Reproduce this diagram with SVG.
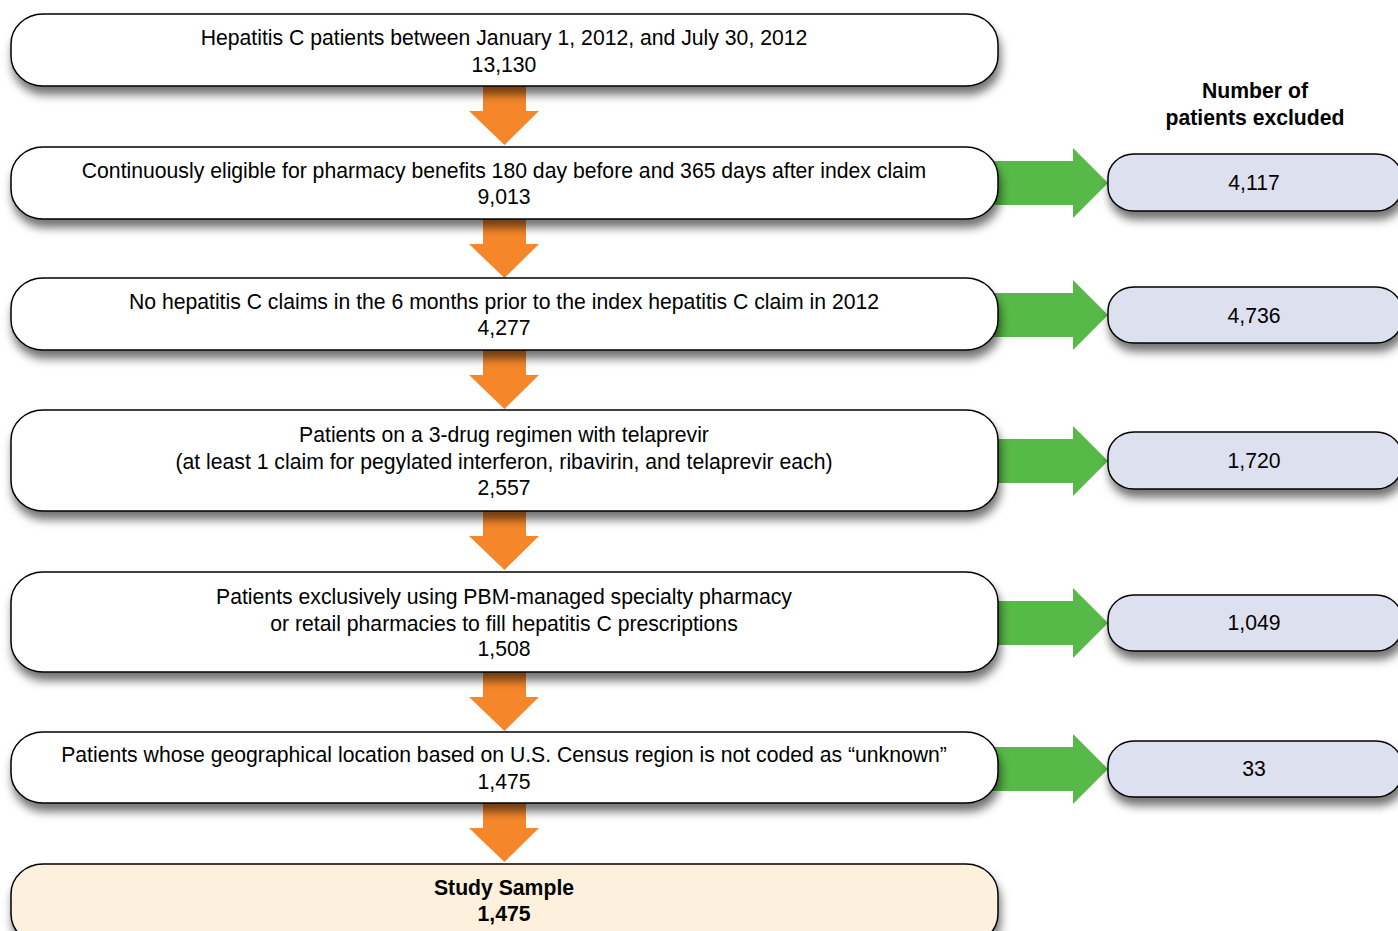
<svg xmlns="http://www.w3.org/2000/svg" width="1398" height="931" viewBox="0 0 1398 931">
<defs>
<filter id="sh" x="-5%" y="-30%" width="110%" height="170%">
<feDropShadow dx="2" dy="8" stdDeviation="5" flood-color="#000" flood-opacity="0.55"/>
</filter>
<style>
.box{fill:#fff;stroke:#000;stroke-width:1.5;filter:url(#sh)}
.ex{fill:#dde0ee;stroke:#000;stroke-width:1.5;filter:url(#sh)}
.st{fill:#fdf0dc;stroke:#000;stroke-width:1.5;filter:url(#sh)}
.t{font-family:"Liberation Sans",Arial,sans-serif;font-size:21.2px;fill:#000;text-anchor:middle}
.b{font-weight:bold}
.or{fill:#f5872a}
.gr{fill:#57b947}
</style>
<path id="oa" d="M-21,0 H22 V25 H35 L0.5,59 L-35,25 H-21 Z"/>
<path id="ga" d="M-10,-22 H75 V-35 L110,0 L75,35 V22 H-10 Z"/>
</defs>
<g id="connectors">
<use href="#oa" class="or" x="504" y="86"/>
<use href="#oa" class="or" x="504" y="219"/>
<use href="#oa" class="or" x="504" y="350"/>
<use href="#oa" class="or" x="504" y="511"/>
<use href="#oa" class="or" x="504" y="672"/>
<use href="#oa" class="or" x="504" y="803"/>
<use href="#ga" class="gr" x="998" y="183"/>
<use href="#ga" class="gr" x="998" y="315"/>
<use href="#ga" class="gr" x="998" y="461"/>
<use href="#ga" class="gr" x="998" y="623"/>
<use href="#ga" class="gr" x="998" y="769"/>
</g>
<g id="n1"><rect class="box" x="11" y="14" width="987" height="72" rx="32" ry="30"/>
<text class="t" x="504" y="45">Hepatitis C patients between January 1, 2012, and July 30, 2012</text>
<text class="t" x="504" y="72">13,130</text></g>
<g id="n2"><rect class="box" x="11" y="147" width="987" height="72" rx="32" ry="30"/>
<text class="t" x="504" y="178">Continuously eligible for pharmacy benefits 180 day before and 365 days after index claim</text>
<text class="t" x="504" y="204">9,013</text></g>
<g id="n3"><rect class="box" x="11" y="278" width="987" height="72" rx="32" ry="30"/>
<text class="t" x="504" y="309">No hepatitis C claims in the 6 months prior to the index hepatitis C claim in 2012</text>
<text class="t" x="504" y="335">4,277</text></g>
<g id="n4"><rect class="box" x="11" y="410" width="987" height="101" rx="32" ry="30"/>
<text class="t" x="504" y="442">Patients on a 3-drug regimen with telaprevir</text>
<text class="t" x="504" y="469">(at least 1 claim for pegylated interferon, ribavirin, and telaprevir each)</text>
<text class="t" x="504" y="495">2,557</text></g>
<g id="n5"><rect class="box" x="11" y="572" width="987" height="100" rx="32" ry="30"/>
<text class="t" x="504" y="604">Patients exclusively using PBM-managed specialty pharmacy</text>
<text class="t" x="504" y="631">or retail pharmacies to fill hepatitis C prescriptions</text>
<text class="t" x="504" y="656">1,508</text></g>
<g id="n6"><rect class="box" x="11" y="732" width="987" height="71" rx="32" ry="30"/>
<text class="t" x="504" y="762">Patients whose geographical location based on U.S. Census region is not coded as “unknown”</text>
<text class="t" x="504" y="789">1,475</text></g>
<g id="n7"><rect class="st" x="11" y="864" width="987" height="80" rx="32" ry="30"/>
<text class="t b" x="504" y="895">Study Sample</text>
<text class="t b" x="504" y="921">1,475</text></g>
<g id="hdr"><text class="t b" x="1255" y="98">Number of</text>
<text class="t b" x="1255" y="125">patients excluded</text></g>
<g id="e1"><rect class="ex" x="1108" y="154" width="294" height="57" rx="26" ry="24"/>
<text class="t" x="1254" y="190">4,117</text></g>
<g id="e2"><rect class="ex" x="1108" y="287" width="294" height="56" rx="26" ry="24"/>
<text class="t" x="1254" y="323">4,736</text></g>
<g id="e3"><rect class="ex" x="1108" y="432" width="294" height="57" rx="26" ry="24"/>
<text class="t" x="1254" y="468">1,720</text></g>
<g id="e4"><rect class="ex" x="1108" y="595" width="294" height="56" rx="26" ry="24"/>
<text class="t" x="1254" y="630">1,049</text></g>
<g id="e5"><rect class="ex" x="1108" y="741" width="294" height="56" rx="26" ry="24"/>
<text class="t" x="1254" y="776">33</text></g>
</svg>
